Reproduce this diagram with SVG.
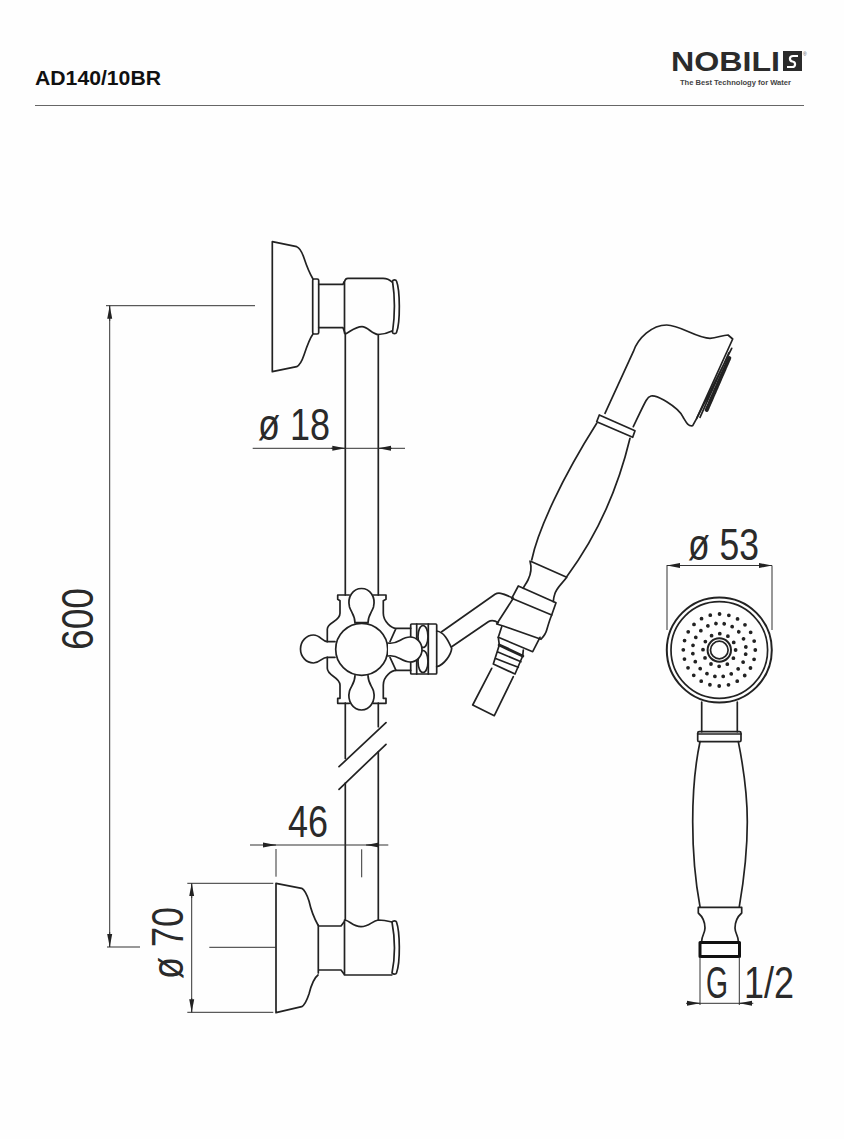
<svg xmlns="http://www.w3.org/2000/svg" width="844" height="1139" viewBox="0 0 844 1139">
<style>
.o{fill:none;stroke:#222;stroke-width:1.7;stroke-linejoin:round;stroke-linecap:round}
.t{fill:none;stroke:#111;stroke-width:3}
.d{fill:none;stroke:#333;stroke-width:1}
.l{font-family:"Liberation Sans Narrow","Liberation Sans",Arial,sans-serif;font-size:44px;fill:#2a2a2a}
.dots{fill:none;stroke:#222;stroke-width:3.8;stroke-linecap:round}
</style>
<defs>
<marker id="a" markerUnits="userSpaceOnUse" markerWidth="14" markerHeight="8" refX="13" refY="4" orient="auto"><path d="M0 1.5L13 4L0 6.5z" fill="#222"/></marker>
</defs>
<rect width="844" height="1139" fill="#fefefe"/>
<g id="header">
<text x="35" y="85" font-family="Liberation Sans,Arial,sans-serif" font-size="20" font-weight="bold" fill="#111" textLength="126" lengthAdjust="spacingAndGlyphs">AD140/10BR</text>
<line x1="35" y1="105.500" x2="804" y2="105.500" stroke="#666" stroke-width="1.200"/>
</g>
<g id="logo">
<text x="671" y="70.800" font-family="Liberation Sans,Arial,sans-serif" font-size="28" font-weight="bold" fill="#2b2b2b" textLength="109" lengthAdjust="spacingAndGlyphs">NOBILI</text>
<rect x="783" y="51" width="19" height="20" fill="#2b2b2b"/>
<path d="M798 56H793C789 56 789 61 792.500 61.500C796 62 796 67 792 67H787" fill="none" stroke="#fff" stroke-width="2.200"/>
<text x="803" y="56" font-family="Liberation Sans,Arial,sans-serif" font-size="5" fill="#555">®</text>
<text x="680" y="84.500" font-family="Liberation Sans,Arial,sans-serif" font-size="7" font-weight="bold" fill="#444" textLength="111" lengthAdjust="spacingAndGlyphs">The Best Technology for Water</text>
</g>
<g id="bracket-top" class="o">
<path d="M272.300 241.700V371.700L296.700 366.700C300 365 302 361 304 355C307 346 310 338 313 334M272.300 241.700L296.700 246.700C300 248 302 252 304 258C307 267 310 274 313 279"/>
<rect x="312.700" y="279" width="6" height="55" rx="1.500"/>
<path d="M318.700 284.300H343L344 282M318.700 327.700H343L345 333"/>
<path d="M344.500 333V282C345 279 346 278.300 348 278.300H383C387 278.300 390 280 392 282M345.300 334C350 332 355 326.700 362 326.700C368 326.700 372 334.500 378.300 334.500C383 334.500 388 333 392 331"/>
<path d="M392.500 281C393 279.500 396 279.500 396.500 281C400 290 400.500 322 396.500 332.500C396 334 393 334 392.500 332.500C395 315 395 297 392.500 281Z"/>
</g>
<g id="bracket-bottom" class="o">
<path d="M276 883.300V1012.700L301.700 1006.700C305 1005 307 1000 309 994C311 986 314 978 318 975M276 883.300L301.700 888.300C305 890 307 895 309 901C311 910 314 918 318 925"/>
<path d="M318.300 925V973M318.300 926H341L344 922M318.300 970H341L344 974"/>
<path d="M344.500 920V975H391.700M345 920C350 921 353 926.700 361 926.700C369 926.700 372 921 378.300 920C384 920 388 921 392 922"/>
<path d="M392 922C393 920.500 396 920.500 396.500 922C400 932 400.500 962 396.500 973C396 974.500 393 974.500 392 973C395 958 395 938 392 922Z"/>
</g>
<g id="pipe" class="o">
<path d="M345.300 334V595M378.300 334.500V595M345.300 703V758.500M378.300 703V726.700M345.300 783V920M378.300 751.700V920"/>
<path d="M339 766.700L386 722.700M339 789.300L386 744.300"/>
</g>
<g id="slider" class="o">
<circle cx="361.700" cy="649.300" r="26"/>
<path d="M349.300 595H337.700V599.300L340 600.700V613.300C340 622 327.300 622 327.300 629.300V641.700H335M373.300 595H386V599.300L383.300 600.700V613.300C383.300 622 392 628.300 396 628.300H410.700M396 628.300L390 641.700M396 670.300L390 657.300"/>
<path d="M335 657.300H327.300V668.300C327.300 676 340 677 340 685V698.300H337.700V703.300H349.300M373.300 703.300H386V698.300H383.300V685C383.300 676 392 670.300 396 670.300H410.700"/>
<path d="M355 623C355 615 351 612 349.500 607C347 597 353 588.500 361.500 588.500C370 588.500 376 597 373.500 607C372 612 368 615 368 623M355 622.500H368"/>
<path d="M355 675.500C355 683 351 686 349.500 691C347 701 353 710 361.500 710C370 710 376 701 373.500 691C372 686 368 683 368 675.500"/>
<path d="M327.300 641.700C322 641 320 635 313.500 635A13 14 0 0 0 313.500 663C320 663 322 657 327.300 657.300"/>
<rect x="410.700" y="624" width="26" height="50" rx="1"/>
<path d="M416.700 624V674M428.300 624V674"/>
<ellipse cx="423" cy="636.500" rx="5" ry="11"/>
<ellipse cx="423" cy="661.500" rx="5" ry="11"/>
<path d="M388 643C398 645 401 637 410 637A12 12.500 0 0 1 410 662C401 662 398 654 388 656" fill="#fefefe"/>
<path d="M436.700 631C444 632 448 640 451.700 648.300C451 655 444 665 436.700 666.700"/>
<path d="M441.700 631.700L495 594.300C498 592.500 501 592.300 513.300 598.300M451.700 646.700L488.300 621.700C491 620 495 620.500 498.300 622.700"/>
</g>
<g id="shower-side" class="o">
<path d="M513.300 598.300L496.700 624L503.300 626L541 639.300C544 636 546 633 546.700 630C549 622 550 619 551.700 615"/>
<path d="M518.300 586L556 602.700L551.700 615L511.700 598.300Z"/>
<path d="M501.700 626.700L498.300 637.300L532.700 651.700L540 637.300"/>
<path d="M498.300 637.300L499.300 645M523.300 650L522.700 656"/>
<path d="M497.300 651.700L521 661.700M495 658.300L518.300 667.300M493.300 664L515 674M499.300 645L493.300 664M522.700 656L515 674"/>
<path d="M499.300 645L522.700 656" stroke-width="3"/>
<path d="M491.700 668.300L472.700 705L494.300 715.700L513.300 676.700"/>
<path d="M531.700 561.700L566.700 577.300M530 561C532 568 531 574 528 580C526 584 524 586 523.300 588.300M566.700 577.300C562 584 556 588 554.500 595C553.500 598 553.500 600 553.300 601.700"/>
<path d="M531.700 560C538 530 562 478 596.700 423.300M566.700 576.700C585 552 614 505 630 438.300"/>
<path d="M599.300 415L635 430.700L632.700 437.300L596.700 421.700Z"/>
<path d="M605 413.300L633.300 351.700C638 338 652 325 666.700 325C680 325 697 338.300 710 338.300C717 338.300 722 335 728 335L732.700 339L696.700 418.300L692.700 425.700C688 426.500 686 422 683 417C680 410 672 405 666.700 401.700C660 398 656 395 651 396C647 397 646 400 633.300 426.700"/>
<path d="M731.700 348.300L696.700 418.300M729 352.700L700 417.300"/>
<path d="M729.300 358L706.700 410" stroke="#222" stroke-width="4" stroke-dasharray="2 0.800"/>
</g>
<g id="shower-front" class="o">
<circle cx="719.300" cy="650" r="52.500" stroke-width="2"/>
<circle cx="719.300" cy="650" r="48.300"/>
<circle cx="719.300" cy="650" r="11.700" stroke-width="2"/>
<circle cx="719.300" cy="650" r="8.800"/>
<circle class="dots" cx="719.300" cy="650" r="36" stroke-dasharray="0 9.425"/>
<circle class="dots" cx="719.300" cy="650" r="26.700" stroke-dasharray="0 8.388" transform="rotate(9 719.300 650)"/>
<circle class="dots" cx="719.300" cy="650" r="16.300" stroke-dasharray="0 8.535"/>
<path d="M701.700 702V731.700M737.300 702V731.700"/>
<rect x="697.700" y="731.700" width="43.300" height="10" rx="1.500"/>
<path d="M697.700 734H741"/>
<path d="M700 741.700C694 770 692.700 800 692.700 821.700C692.700 850 696 885 700 906.700M738.300 741.700C744 770 747.300 800 747.300 821.700C747.300 850 743 885 739.300 906.700"/>
<path d="M698.300 907.300H741.700V913C736 918 735 923 735 928C735 933 738.300 936 738.300 941M698.300 907.300V913C704 918 705 923 705 928C705 933 701.700 936 701.700 941"/>
<rect x="700" y="942.500" width="39.500" height="14" class="t"/>
</g>
<g id="dimensions" class="d">
<path d="M106 305.700H255M109.700 305.700V947M107 947H140"/>
<path d="M109.700 321V305.700" marker-end="url(#a)"/>
<path d="M109.700 932V947" marker-end="url(#a)"/>
<path d="M252.700 448.300H405"/>
<path d="M331 448.300H345.300" marker-end="url(#a)"/>
<path d="M392 448.300H378.300" marker-end="url(#a)"/>
<path d="M250 845H388.300M276 849V876.700M361.700 849.300V877.300"/>
<path d="M263 845H276" marker-end="url(#a)"/>
<path d="M378.300 845H366" marker-end="url(#a)"/>
<path d="M187.300 883.300H273.300M187.300 1012.300H273.300M191.700 883.300V1012.300M209.300 947.300H276"/>
<path d="M191.700 898V883.300" marker-end="url(#a)"/>
<path d="M191.700 998V1012.300" marker-end="url(#a)"/>
<path d="M666.700 565.500H772M667 565.500V630M772 565.500V630"/>
<path d="M680 565.500H667" marker-end="url(#a)"/>
<path d="M759 565.500H772" marker-end="url(#a)"/>
<path d="M700 957V1005M739.300 957V1005M686 1003.300H753.300"/>
<path d="M687 1003.300H700" marker-end="url(#a)"/>
<path d="M752 1003.300H739.300" marker-end="url(#a)"/>
</g>
<g id="labels">
<text class="l" x="258" y="440" textLength="72" lengthAdjust="spacingAndGlyphs">ø 18</text>
<text class="l" x="288" y="837" textLength="40" lengthAdjust="spacingAndGlyphs">46</text>
<text class="l" transform="translate(93 650) rotate(-90)" textLength="62" lengthAdjust="spacingAndGlyphs">600</text>
<text class="l" transform="translate(183 979) rotate(-90)" textLength="72" lengthAdjust="spacingAndGlyphs">ø 70</text>
<text class="l" x="688" y="560" textLength="71" lengthAdjust="spacingAndGlyphs">ø 53</text>
<text class="l" x="706" y="998" textLength="22" lengthAdjust="spacingAndGlyphs">G</text>
<text class="l" x="744" y="998" textLength="50" lengthAdjust="spacingAndGlyphs">1/2</text>
</g>
</svg>
